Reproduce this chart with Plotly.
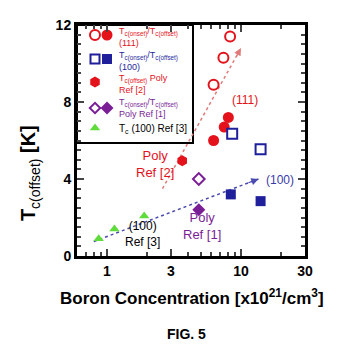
import numpy as np
import plotly.graph_objects as go

# ---- data ----
ref3_x = [0.87, 1.14, 1.9]
ref3_y = [0.9, 1.4, 2.08]

onset111_x = [8.3, 7.4, 6.25]
onset111_y = [11.4, 10.3, 8.9]
offset111_x = [8.05, 7.5, 6.25]
offset111_y = [7.2, 6.7, 6.0]

onset100_x = [8.6, 14.0]
onset100_y = [6.35, 5.55]
offset100_x = [8.4, 14.0]
offset100_y = [3.2, 2.85]

poly2_x = [3.65]
poly2_y = [4.95]

poly1_onset_x = [4.85]
poly1_onset_y = [4.0]
poly1_offset_x = [4.85]
poly1_offset_y = [2.4]

arrow111_x = [2.6, 10.0]
arrow111_y = [3.5, 10.8]
arrow100_x = [0.8, 13.5]
arrow100_y = [0.75, 4.0]

xtick_vals = [1, 3, 10, 30]
ytick_vals = [0, 4, 8, 12]

RED = "#e3121b"
BLUE = "#1f1f9c"
PURPLE = "#7a1e96"
GREEN = "#5fdc3c"
FONT = "Arial, Liberation Sans, sans-serif"

fig = go.Figure()

# dotted guide lines
fig.add_trace(go.Scatter(x=arrow111_x, y=arrow111_y, mode="lines",
                         line=dict(color="#e07a7a", width=1.5, dash="dot"), showlegend=False))
fig.add_trace(go.Scatter(x=arrow100_x, y=arrow100_y, mode="lines",
                         line=dict(color="#4a4ab0", width=1.5, dash="dot"), showlegend=False))

def mk(x, y, symbol, color, size, open_=False, lw=2):
    fig.add_trace(go.Scatter(
        x=x, y=y, mode="markers", showlegend=False,
        marker=dict(symbol=symbol, size=size,
                    color="white" if open_ else color,
                    line=dict(color=color, width=lw))))

mk(ref3_x, ref3_y, "triangle-up", GREEN, 9, lw=0)
mk(onset111_x, onset111_y, "circle", RED, 10, open_=True)
mk(offset111_x, offset111_y, "circle", RED, 11, lw=0)
mk(onset100_x, onset100_y, "square", BLUE, 10, open_=True)
mk(offset100_x, offset100_y, "square", BLUE, 10, lw=0)
mk(poly2_x, poly2_y, "hexagon", RED, 11, lw=0)
mk(poly1_onset_x, poly1_onset_y, "diamond", PURPLE, 9, open_=True)
mk(poly1_offset_x, poly1_offset_y, "diamond", PURPLE, 10, lw=0)

# arrow heads
annotations = []
for xs, ys, col in [(arrow111_x, arrow111_y, "#e07a7a"), (arrow100_x, arrow100_y, "#4a4ab0")]:
    lx0, lx1 = np.log10(xs[0]), np.log10(xs[1])
    t = 0.93
    annotations.append(dict(x=lx1, y=ys[1], ax=lx0 + t * (lx1 - lx0), ay=ys[0] + t * (ys[1] - ys[0]),
                            xref="x", yref="y", axref="x", ayref="y", text="",
                            showarrow=True, arrowhead=2, arrowsize=1.2, arrowwidth=1.2, arrowcolor=col))

def txt(x, y, s, color, size=12, xref="x", yref="y", **kw):
    annotations.append(dict(x=x, y=y, xref=xref, yref=yref, text=s, showarrow=False,
                            xanchor="center", yanchor="middle",
                            font=dict(family=FONT, size=size, color=color), **kw))

txt(np.log10(10.8), 8.1, "(111)", RED, 12)
txt(np.log10(19.5), 3.95, "(100)", "#3a3aa8", 12)
txt(np.log10(2.3), 4.8, "Poly<br>Ref [2]", RED, 13)
txt(np.log10(5.1), 1.55, "Poly<br>Ref [1]", PURPLE, 13)
txt(np.log10(1.85), 1.15, "(100)<br>Ref [3]", "black", 12)

# axis titles / caption
txt(-0.205, 0.36, "<b>T</b><sub>c(offset)</sub> <b>[K]</b>", "black", 20, xref="paper", yref="paper", textangle=-90)
txt(0.505, -0.178, "<b>Boron Concentration [x10<sup>21</sup>/cm<sup>3</sup>]</b>", "black", 17,
    xref="paper", yref="paper")
txt(0.48, -0.338, "<b>FIG. 5</b>", "black", 14, xref="paper", yref="paper")

# ---- custom legend (pixel-like overlay axes) ----
def lm(x, y, symbol, color, size, open_=False):
    fig.add_trace(go.Scatter(x=[x], y=[y], xaxis="x2", yaxis="y2", mode="markers", showlegend=False,
                             marker=dict(symbol=symbol, size=size, color="white" if open_ else color,
                                         line=dict(color=color, width=2 if open_ else 0))))

lm(95, 35, "circle", RED, 10, True)
lm(107, 35, "circle", RED, 11)
lm(95, 59, "square", BLUE, 9, True)
lm(107, 59, "square", BLUE, 10)
lm(95, 82, "hexagon", RED, 11)
lm(95, 108, "diamond", PURPLE, 8, True)
lm(107, 108, "diamond", PURPLE, 10)
lm(95, 128, "triangle-up", GREEN, 9)

def ltxt(x, y, s, color, size=9):
    annotations.append(dict(x=x, y=y, xref="x2", yref="y2", text=s, showarrow=False, xanchor="left",
                            yanchor="middle", align="left", font=dict(family=FONT, size=size, color=color)))

ltxt(117, 37, "T<sub>c(onset)</sub>/T<sub>c(offset)</sub><br>(111)", RED)
ltxt(117, 61, "T<sub>c(onset)</sub>/T<sub>c(offset)</sub><br>(100)", BLUE)
ltxt(117, 84, "T<sub>c(offset)</sub> Poly<br>Ref [2]", RED)
ltxt(117, 108, "T<sub>c(onset)</sub>/T<sub>c(offset)</sub><br>Poly Ref [1]", PURPLE)
ltxt(117, 129, "T<sub>c</sub> (100) Ref [3]", "black", 10)

shapes = [dict(type="rect", xref="x2", yref="y2", x0=77, x1=193, y0=25, y1=143,
               line=dict(color="black", width=2), fillcolor="white", layer="below")]

fig.update_layout(
    width=354, height=351,
    margin=dict(l=77, r=49, t=25, b=95),
    paper_bgcolor="white", plot_bgcolor="white",
    font=dict(family=FONT, color="black"),
    annotations=annotations, shapes=shapes,
    xaxis=dict(type="log", range=[np.log10(0.6), np.log10(30)],
               tickvals=xtick_vals, ticktext=[f"<b>{v}</b>" for v in xtick_vals],
               tickfont=dict(size=14), ticks="inside", ticklen=7, tickwidth=2,
               showline=True, linewidth=3, linecolor="black", mirror="allticks",
               showgrid=False, zeroline=False,
               minor=dict(ticks="inside", ticklen=4, tickwidth=2, tickvals=[0.6, 0.7, 0.8, 0.9, 2, 4, 5, 6, 7, 8, 9, 20], showgrid=False)),
    yaxis=dict(range=[0, 12], tickvals=ytick_vals, ticktext=[f"<b>{v}</b>" for v in ytick_vals],
               tickfont=dict(size=14), ticks="inside", ticklen=7, tickwidth=2,
               showline=True, linewidth=3, linecolor="black", mirror="allticks",
               showgrid=False, zeroline=False,
               minor=dict(ticks="inside", ticklen=4, tickwidth=2, dtick=0.5, showgrid=False)),
    xaxis2=dict(overlaying="x", range=[77, 305], visible=False, fixedrange=True),
    yaxis2=dict(overlaying="y", range=[256, 25], visible=False, fixedrange=True),
)

fig.write_html("out.html")
